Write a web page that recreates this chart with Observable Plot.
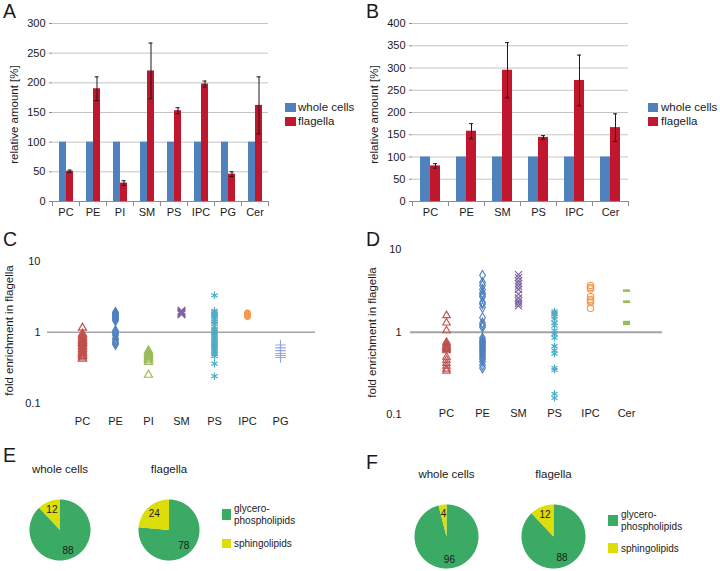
<!DOCTYPE html>
<html><head><meta charset="utf-8">
<script src="https://cdn.jsdelivr.net/npm/d3@7"></script>
<script src="https://cdn.jsdelivr.net/npm/@observablehq/plot@0.6"></script>
<style>
html,body{margin:0;padding:0;background:#fff;}
#root{position:relative;width:720px;height:571px;overflow:hidden;font-family:"Liberation Sans",Arial,Helvetica,sans-serif;color:#1a1a1a;}
.abs{position:absolute;white-space:nowrap;}
</style></head><body><div id="root"></div>
<script>
// ---------------- data ----------------
const seriesNames = ["whole cells", "flagella"];

const catsA = ["PC","PE","PI","SM","PS","IPC","PG","Cer"];
const wholeA = [100,100,100,100,100,100,100,100];
const flagA  = [51,190,31,220,153,198,46,162];
const errA   = [2,20,4,47,5,5,4,48];
const ticksA = [0,50,100,150,200,250,300];

const catsB = ["PC","PE","SM","PS","IPC","Cer"];
const wholeB = [100,100,100,100,100,100];
const flagB  = [80,158,295,144,272,166];
const errB   = [5,17,62,4,57,31];
const ticksB = [0,50,100,150,200,250,300,350,400];

const logTicks = [0.1, 1, 10];

const catsC = ["PC","PE","PI","SM","PS","IPC","PG"];
const pcC  = [1.15,0.95,0.9,0.86,0.82,0.78,0.75,0.72,0.7,0.67,0.64,0.61,0.58,0.55,0.52,0.5,0.48,0.46,0.44,0.42];
const peC  = [1.9,1.85,1.8,1.75,1.7,1.65,1.6,1.55,1.5,1.45,1.05,1.0,0.96,0.9,0.82,0.78,0.73,0.7,0.67];
const piC  = [0.55,0.52,0.5,0.48,0.46,0.44,0.42,0.4,0.38,0.25];
const smC  = [2.0,1.95,1.9,1.85,1.8,1.78];
const psC  = [3.3,2.0,1.9,1.8,1.7,1.6,1.5,1.4,1.3,1.2,1.1,1.05,1.0,0.95,0.9,0.85,0.8,0.75,0.7,0.66,0.62,0.58,0.55,0.52,0.49,0.46,0.36,0.24];
const ipcC = [1.88,1.82,1.76,1.7,1.65];
const pgC  = [0.66,0.6,0.55,0.5,0.47,0.44];

const catsD = ["PC","PE","SM","PS","IPC","Cer"];
const pcD  = [1.6,1.3,1.05,0.76,0.73,0.7,0.68,0.66,0.64,0.62,0.6,0.5,0.46,0.42,0.39,0.36,0.34];
const peD  = [4.9,4.0,3.7,3.3,3.0,2.85,2.7,2.3,2.2,2.0,1.5,1.3,1.22,1.15,0.85,0.8,0.77,0.74,0.71,0.68,0.65,0.62,0.59,0.56,0.53,0.5,0.47,0.44,0.4,0.37];
const smD  = [5.0,4.6,4.2,3.9,3.6,3.3,2.9,2.6,2.4,2.25,2.1];
const psD  = [1.8,1.72,1.65,1.55,1.45,1.3,1.2,1.05,0.95,0.86,0.68,0.6,0.55,0.37,0.35,0.18,0.16];
const ipcD = [3.7,3.5,3.35,2.7,2.5,2.4,2.3,1.95];
const cerD = [3.2,2.35,1.33,1.3,1.27];

const pieGroups = ["whole cells", "flagella"];
const pieParts  = ["glycero-phospholipids", "sphingolipids"];
const glyceroE = [88, 78];
const sphingoE = [12, 24];
const glyceroF = [96, 88];
const sphingoF = [4, 12];

// ---------------- styles ----------------
const FONT = '"Liberation Sans", Arial, Helvetica, sans-serif';
const BLUE = "#4f81bd", RED = "#c0162e";
const GREEN = "#3aaa64", YELLOW = "#dddd0a";
const AXIS = "#8c8c8c";
const colC = ["#c0504d","#4f81bd","#9bbb59","#8064a2","#4bacc6","#f79646","#93a7dc"];
const colD = ["#c0504d","#4f81bd","#8064a2","#4bacc6","#f79646","#9bbb59"];
const dash = {draw(ctx, size) { const w = Math.sqrt(size) * 0.55; ctx.moveTo(-w, 0); ctx.lineTo(w, 0); }};
const symC = ["triangle","diamond","triangle","times","asterisk","circle","plus"];
const symD = ["triangle","diamond","times","asterisk","circle", dash];
const baseStyle = {fontFamily: FONT, fontSize: "11px", background: "transparent", overflow: "visible", color: "#1a1a1a"};

const root = document.getElementById("root");
function place(node, left, top) {
  const d = document.createElement("div");
  d.className = "abs"; d.style.left = left + "px"; d.style.top = top + "px";
  d.appendChild(node); root.appendChild(d);
}
function label(text, x, yc, size, extra) {
  const d = document.createElement("div");
  d.className = "abs"; d.textContent = text;
  Object.assign(d.style, {left: x + "px", top: (yc - size * 0.62) + "px", fontSize: size + "px", lineHeight: (size * 1.2) + "px"}, extra || {});
  root.appendChild(d);
}
function swatch(x, y, w, h, color) {
  const d = document.createElement("div");
  d.className = "abs";
  Object.assign(d.style, {left: x + "px", top: y + "px", width: w + "px", height: h + "px", background: color});
  root.appendChild(d);
}

// ---------------- bar charts ----------------
function barChart(cats, whole, flag, err, ticks, po, cap) {
  const rows = cats.flatMap((c, i) => [
    {cat: c, series: seriesNames[0], value: whole[i]},
    {cat: c, series: seriesNames[1], value: flag[i]}
  ]);
  const errRows = cats.map((c, i) => ({cat: c, series: seriesNames[1], lo: flag[i] - err[i], hi: flag[i] + err[i]}));
  const yMax = ticks[ticks.length - 1];
  return Plot.plot({
    width: 360, height: 225,
    marginLeft: 49, marginRight: 90, marginTop: 23, marginBottom: 24,
    style: baseStyle,
    fx: {domain: cats, padding: 0, label: null},
    x: {domain: seriesNames, paddingInner: 0, paddingOuter: po, axis: null},
    y: {domain: [0, yMax], label: null},
    color: {domain: seriesNames, range: [BLUE, RED]},
    marks: [
      Plot.gridY(ticks.slice(1), {stroke: "#c4c4c4", strokeOpacity: 1}),
      Plot.barY(rows, {fx: "cat", x: "series", y: "value", fill: "series"}),
      Plot.ruleX(errRows, {fx: "cat", x: "series", y1: "lo", y2: "hi", stroke: "#1a1a1a"}),
      Plot.tickY(errRows, {fx: "cat", x: "series", y: "lo", stroke: "#1a1a1a", insetLeft: cap, insetRight: cap}),
      Plot.tickY(errRows, {fx: "cat", x: "series", y: "hi", stroke: "#1a1a1a", insetLeft: cap, insetRight: cap}),
      Plot.ruleY([0], {stroke: AXIS}),
      Plot.frame({anchor: "left", stroke: AXIS, insetTop: 178, insetBottom: -4}),
      Plot.frame({anchor: "right", stroke: AXIS, insetTop: 178, insetBottom: -4}),
      Plot.axisY({ticks, tickSize: 3, tickPadding: 4, stroke: AXIS, fill: "#1a1a1a", line: true, label: null, fontSize: 11}),
      Plot.axisFx({anchor: "bottom", tickSize: 0, tickPadding: 7, label: null, fill: "#1a1a1a", fontSize: 11}),
      Plot.text(["relative amount [%]"], {fx: () => cats[0], frameAnchor: "left", textAnchor: "middle", rotate: -90, dx: -38, dy: 2, fontSize: 11.5, fill: "#1a1a1a"})
    ]
  });
}

// ---------------- scatter charts ----------------
function scatter(cats, vals, syms, cols, o) {
  return Plot.plot({
    width: 360, height: o.height,
    marginLeft: o.ml, marginRight: o.mr, marginTop: o.mt, marginBottom: o.mb,
    style: baseStyle,
    x: {type: "point", domain: cats, padding: o.pad, axis: null},
    y: {type: "log", domain: o.yDomain, label: null},
    marks: [
      Plot.ruleY([1], {stroke: "#a3a3a3", strokeWidth: o.sw}),
      Plot.axisY({ticks: logTicks, tickFormat: d3.format("~g"), tickSize: 0, tickPadding: o.tp, stroke: "#a3a3a3", strokeWidth: 1.4, fill: "#1a1a1a", line: true, label: null, fontSize: 11}),
      ...cats.map((c, i) => Plot.dot(vals[i], {x: () => c, y: d => d, symbol: syms[i], stroke: cols[i], r: o.r[i], strokeWidth: o.symW[i], fill: "none"})),
      Plot.text(cats, {x: d => d, frameAnchor: "bottom", dy: o.labDy, fontSize: 11, fill: "#1a1a1a"}),
      Plot.text(["fold enrichment in flagella"], {frameAnchor: "left", textAnchor: "middle", rotate: -90, dx: -38, dy: o.titleDy, fontSize: 11.5, fill: "#1a1a1a"})
    ]
  });
}

// ---------------- pie charts ----------------
function pieChart(glyc, sph, o) {
  const polys = [], labels = [];
  pieGroups.forEach((g, gi) => {
    const vals = [glyc[gi], sph[gi]];
    const tot = vals[0] + vals[1];
    let a0 = 0;
    vals.forEach((v, si) => {
      const a1 = a0 + v / tot * 2 * Math.PI;
      polys.push({g, part: pieParts[si], x: 0, y: 0});
      const n = Math.max(4, Math.ceil((a1 - a0) / (Math.PI / 180)));
      for (let k = 0; k <= n; k++) {
        const a = a0 + (a1 - a0) * k / n;
        polys.push({g, part: pieParts[si], x: Math.sin(a), y: Math.cos(a)});
      }
      const m = (a0 + a1) / 2;
      labels.push({g, text: String(v), x: 0.72 * Math.sin(m), y: 0.72 * Math.cos(m)});
      a0 = a1;
    });
  });
  return Plot.plot({
    width: o.width, height: o.height,
    marginLeft: o.ml, marginRight: o.mr, marginTop: o.mt, marginBottom: o.mb,
    style: baseStyle,
    fx: {domain: pieGroups, paddingInner: o.pi, paddingOuter: 0, label: null},
    x: {domain: [-1, 1], axis: null},
    y: {domain: [-1, 1], axis: null},
    marks: [
      Plot.line(polys.filter(d => d.part === pieParts[0]), {fx: "g", x: "x", y: "y", fill: GREEN, stroke: "none"}),
      Plot.line(polys.filter(d => d.part === pieParts[1]), {fx: "g", x: "x", y: "y", fill: YELLOW, stroke: "none"}),
      Plot.text(labels, {fx: "g", x: "x", y: "y", text: "text", fontSize: 10, fill: "#1a1a1a"}),
      Plot.axisFx({anchor: "top", tickSize: 0, tickPadding: 27, label: null, fontSize: 11.5, fill: "#1a1a1a"})
    ]
  });
}

// ---------------- assemble ----------------
place(barChart(catsA, wholeA, flagA, errA, ticksA, 0.7266, 1.5), 0, 0);
place(barChart(catsB, wholeB, flagB, errB, ticksB, 0.674, 3), 360, 0);

place(scatter(catsC, [pcC, peC, piC, smC, psC, ipcC, pgC], symC, colC, {
  height: 205, ml: 47, mr: 45, mt: 13, mb: 28, pad: 1, yDomain: [0.087, 17.7], sw: 1.5, tp: 7,
  labDy: 17, titleDy: 5,
  r: [3, 3, 3, 3.5, 3.5, 2.6, 3.5], symW: [1.2, 1.1, 1.2, 1.3, 1.2, 1.2, 1.1]
}), 0, 230);

place(scatter(catsD, [pcD, peD, smD, psD, ipcD, cerD], symD, colD, {
  height: 200, ml: 50, mr: 58, mt: 10, mb: 10, pad: 0.96, yDomain: [0.0853, 12.96], sw: 2, tp: 9,
  labDy: -4, titleDy: 2,
  r: [2.8, 3, 3.3, 3.3, 3.2, 3.6], symW: [1.1, 1.1, 1.2, 1.2, 1.1, 2.6]
}), 360, 230);

place(pieChart(glyceroE, sphingoE, {width: 215, height: 130, ml: 28.5, mr: 16, mt: 59, mb: 10, pi: 0.443}), 0, 440);
place(pieChart(glyceroF, sphingoF, {width: 290, height: 131, ml: 54, mr: 64.5, mt: 64, mb: 3, pi: 0.405}), 360, 440);

// panel letters
label("A", 3, 12, 19.5); label("B", 366, 12, 19.5);
label("C", 3, 240, 19.5); label("D", 366, 240, 19.5);
label("E", 3, 456, 19.5); label("F", 366, 463, 19.5);

// bar legends
swatch(285, 103, 11, 9, BLUE); label(seriesNames[0], 298, 108, 11.5);
swatch(285, 117, 11, 9, RED);  label(seriesNames[1], 298, 122, 11.5);
swatch(648, 103, 10, 9, BLUE); label(seriesNames[0], 661, 108, 11.5);
swatch(648, 117, 10, 9, RED);  label(seriesNames[1], 661, 122, 11.5);

// pie legends
swatch(222, 509, 9, 11, GREEN); label("glycero-", 234, 509, 10); label("phospholipids", 234, 521, 10);
swatch(222, 539, 9, 9, YELLOW); label(pieParts[1], 234, 544, 10);
swatch(608, 515, 10, 11, GREEN); label("glycero-", 621, 515, 10); label("phospholipids", 621, 527, 10);
swatch(608, 543, 10, 10, YELLOW); label(pieParts[1], 621, 549, 10);
</script></body></html>
